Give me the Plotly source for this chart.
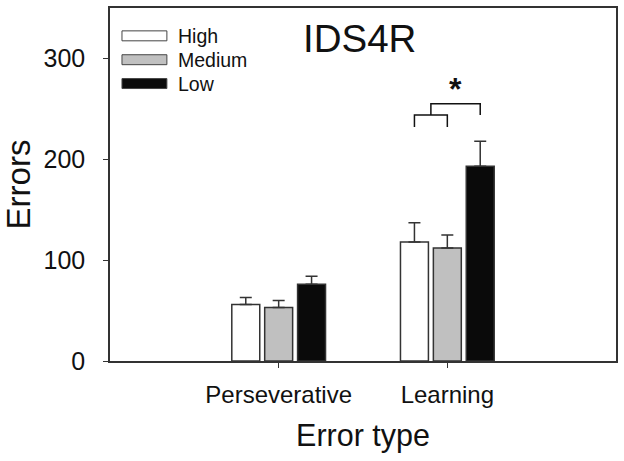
import plotly.graph_objects as go

# ---- data ----
categories = ["Perseverative", "Learning"]
series_names = ["High", "Medium", "Low"]
high_vals = [56, 118]
medium_vals = [53, 112]
low_vals = [76, 193]
high_err = [7, 19]
medium_err = [7, 13]
low_err = [8, 25]
y_ticks = [0, 100, 200, 300]

values = [high_vals, medium_vals, low_vals]
errors = [high_err, medium_err, low_err]
fills = ["#ffffff", "#c0c0c0", "#0a0a0a"]
edge = "#333333"
FONT = "Liberation Sans, Arial, sans-serif"

fig = go.Figure()
for name, vals, errs, col in zip(series_names, values, errors, fills):
    fig.add_trace(go.Bar(
        x=[0, 1], y=vals, name=name,
        marker=dict(color=col, line=dict(color=edge, width=1.5)),
        error_y=dict(type="data", array=errs, arrayminus=[0] * len(errs),
                     symmetric=False, color=edge, thickness=1.5, width=6),
        showlegend=False,
    ))

# significance bracket (data coordinates relative to the Learning group)
slot = 0.195
xw, xm, xl = 1 - slot, 1.0, 1 + slot
line = dict(color="#111111", width=1.5)
fig.add_shape(type="path", xref="x", yref="y",
              path=f"M {xw},232 L {xw},244 L {xm},244 L {xm},232", line=line)
fig.add_shape(type="path", xref="x", yref="y",
              path=f"M {(xw+xm)/2},244 L {(xw+xm)/2},255 L {xl},255 L {xl},244", line=line)
fig.add_annotation(x=((xw+xm)/2 + xl)/2, y=270, xref="x", yref="y", text="<b>*</b>",
                   showarrow=False, font=dict(size=32, color="#111111", family=FONT),
                   yanchor="middle")

# custom legend (wide swatches)
legend_rows_px = [34, 58, 82]
H = 355.0
for name, col, py in zip(series_names, fills, legend_rows_px):
    yc = (361 - py) / H
    fig.add_shape(type="rect", xref="paper", yref="paper",
                  x0=12 / 507, x1=57 / 507, y0=yc - 5 / H, y1=yc + 5 / H,
                  fillcolor=col, line=dict(color="#444444", width=1))
    fig.add_annotation(x=66 / 507, y=yc, xref="paper", yref="paper", text=name,
                       showarrow=False, xanchor="left", yanchor="middle",
                       font=dict(size=19.5, color="#111111", family=FONT))

# title inside plot
fig.add_annotation(x=(360 - 110) / 507, y=(361 - 37) / H, xref="paper", yref="paper",
                   text="IDS4R", showarrow=False, xanchor="center", yanchor="middle",
                   font=dict(size=38.5, color="#111111", family=FONT))

fig.update_layout(
    width=624, height=461,
    margin=dict(l=110, r=7, t=6, b=100),
    paper_bgcolor="white", plot_bgcolor="white",
    barmode="group", bargap=0.415, bargroupgap=0.15,
    font=dict(family=FONT, color="#111111"),
)
fig.update_xaxes(
    range=[-1, 2], tickmode="array", tickvals=[0, 1], ticktext=categories,
    ticks="outside", ticklen=5, tickcolor=edge, tickwidth=1,
    tickfont=dict(size=24, family=FONT, color="#111111"),
    ticklabelstandoff=6,
    showline=True, linecolor=edge, linewidth=1.5, mirror=True,
    showgrid=False, zeroline=False,
    title=dict(text="Error type", font=dict(size=30.5, family=FONT, color="#111111"), standoff=18),
)
fig.update_yaxes(
    range=[0, 350], tickmode="array", tickvals=y_ticks,
    ticks="outside", ticklen=5, tickcolor=edge, tickwidth=1,
    tickfont=dict(size=25, family=FONT, color="#111111"),
    ticklabelstandoff=13,
    showline=True, linecolor=edge, linewidth=1.5, mirror=True,
    showgrid=False, zeroline=False,
    title=dict(text="Errors", font=dict(size=33, family=FONT, color="#111111"), standoff=8),
)

fig.write_html("out.html", post_script="document.body.style.margin='0';",
               config={"displayModeBar": False})
